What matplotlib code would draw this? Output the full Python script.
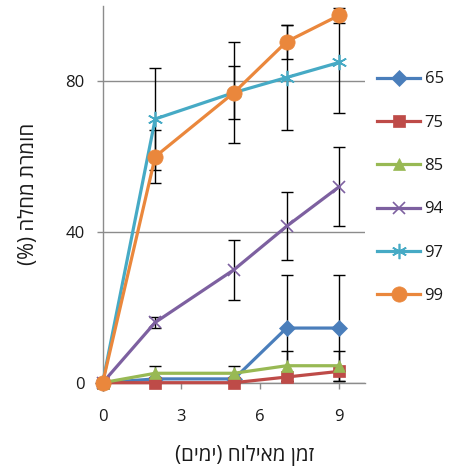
import matplotlib
matplotlib.use("Agg")
import matplotlib.pyplot as plt

plt.rcParams['font.family'] = ['Open Sans', 'DejaVu Sans']

# days after inoculation
days = [0, 2, 5, 7, 9]

# disease severity (%) per line, with error bar sizes
labels = ['65', '75', '85', '94', '97', '99']
values = {
    '65': [0, 1, 1, 14.5, 14.5],
    '75': [0, 0, 0, 1.5, 3],
    '85': [0, 2.5, 2.5, 4.5, 4.5],
    '94': [0, 16, 30, 41.5, 52],
    '97': [0, 70, 77, 81, 85],
    '99': [0, 60, 77, 90.5, 97.5],
}
errors = {
    '65': [0, 0, 0, 14, 14],
    '75': [0, 0, 0, 0, 0],
    '85': [0, 2, 2, 4, 4],
    '94': [0, 1.5, 8, 9, 10.5],
    '97': [0, 13.5, 13.5, 14, 13.5],
    '99': [0, 7, 7, 4.5, 2],
}
colors = {'65': '#4A7EBB', '75': '#BE4B48', '85': '#98B954',
          '94': '#7D60A0', '97': '#46AAC5', '99': '#EA873C'}
markers = {'65': 'D', '75': 's', '85': '^', '94': 'x', '97': (6, 2, 0), '99': 'o'}
msizes = {'65': 8, '75': 9, '85': 9, '94': 9, '97': 11, '99': 11}

yticks = [0, 40, 80]
xticks = [0, 3, 6, 9]

# hebrew written in visual order (matplotlib has no bidi)
ylabel = '(%) הלחמ תרמוח'
xlabel = '(םימי) חוליאמ ןמז'

fig = plt.figure(figsize=(4.56, 4.68), dpi=100)
ax = fig.add_axes([0.2252, 0.1823, 0.576, 0.805])

for lab in labels:
    ax.errorbar(days, values[lab], yerr=errors[lab], fmt='none', ecolor='black',
                elinewidth=1.0, capsize=4.3, capthick=1.0, clip_on=False, zorder=3)
    ax.plot(days, values[lab], color=colors[lab], lw=2.3, marker=markers[lab],
            markersize=msizes[lab], markeredgewidth=1.2 if lab in ('94', '97') else 0.5,
            markeredgecolor=colors[lab], label=lab, clip_on=False, zorder=4)

ax.set_xlim(0, 10)
ax.set_ylim(0, 100)
ax.set_xticks(xticks)
ax.set_yticks(yticks)
ax.grid(axis='y', color='#8C8C8C', lw=1.0)
ax.set_axisbelow(True)
for s in ['top', 'right']:
    ax.spines[s].set_visible(False)
for s in ['left', 'bottom']:
    ax.spines[s].set_color('#8C8C8C')
    ax.spines[s].set_linewidth(1.0)
ax.tick_params(axis='both', colors='#8C8C8C', labelcolor='#1A1A1A',
               labelsize=12, length=4, width=1.0)
ax.tick_params(axis='x', pad=15)
ax.tick_params(axis='y', pad=9)

leg = ax.legend(loc='upper left', bbox_to_anchor=(1.0, 0.857), frameon=False,
                fontsize=12, handlelength=2.6, labelspacing=1.64,
                handletextpad=0.25, borderaxespad=0.3)
for t in leg.get_texts():
    t.set_color('#1A1A1A')

fig.text(28.5 / 456, 1 - 194 / 468, ylabel, rotation=90, ha='center', va='center',
         fontsize=14.8, color='#1A1A1A')
fig.text(245 / 456, 1 - 455 / 468, xlabel, ha='center', va='center',
         fontsize=14.8, color='#1A1A1A')

fig.savefig('out.png', dpi=100)
